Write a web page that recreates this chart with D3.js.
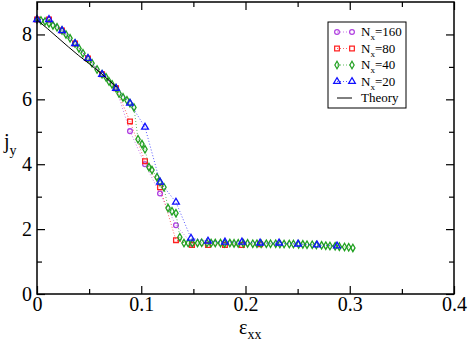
<!DOCTYPE html>
<html>
<head>
<meta charset="utf-8">
<script src="https://cdn.jsdelivr.net/npm/d3@7"></script>
<style>
  body { margin: 0; background: #fff; }
</style>
</head>
<body>
<div id="chart"></div>
<script>
// data (strain, current)
var theory = [[0, 8.45], [0.01, 8.18], [0.02, 7.9], [0.03, 7.62], [0.04, 7.35], [0.05, 7.1], [0.06, 6.84], [0.07, 6.56], [0.077, 6.36]];

var n160 = [[0, 8.46], [0.0115, 8.46], [0.024, 8.12], [0.0365, 7.72], [0.0489, 7.26], [0.0624, 6.77],
    [0.0758, 6.34], [0.0892, 5.02], [0.1036, 4.0], [0.118, 3.1], [0.1333, 2.12], [0.1487, 1.55]];

var n80 = [[0, 8.46], [0.0115, 8.46], [0.024, 8.12], [0.0365, 7.72], [0.0489, 7.26], [0.0624, 6.77],
    [0.0758, 6.34], [0.0892, 5.32], [0.1036, 4.09], [0.118, 3.29], [0.1333, 1.66], [0.1487, 1.51],
    [0.164, 1.51], [0.1803, 1.51], [0.1966, 1.51], [0.214, 1.53]];

var n40 = [[0, 8.46], [0.0038, 8.43], [0.0077, 8.4], [0.0115, 8.34], [0.0153, 8.28], [0.0192, 8.22],
    [0.024, 8.12], [0.0278, 8.0], [0.0317, 7.88], [0.0365, 7.72], [0.0403, 7.57], [0.0441, 7.42],
    [0.0489, 7.26], [0.0528, 7.11], [0.0576, 6.92], [0.0624, 6.77], [0.0662, 6.68], [0.0691, 6.55],
    [0.072, 6.46], [0.0758, 6.34], [0.0787, 6.18], [0.0825, 6.06], [0.0863, 5.97], [0.0892, 5.88],
    [0.093, 5.75], [0.0969, 4.77], [0.1007, 4.62], [0.1036, 4.46], [0.1074, 3.91], [0.1103, 3.82],
    [0.1151, 3.6], [0.118, 3.45], [0.1218, 3.29], [0.1257, 2.65], [0.1295, 2.55], [0.1333, 2.49],
    [0.137, 1.75], [0.141, 1.57], [0.145, 1.57], [0.149, 1.57], [0.154, 1.57], [0.158, 1.58],
    [0.163, 1.57], [0.167, 1.57], [0.171, 1.57], [0.176, 1.57], [0.18, 1.56], [0.185, 1.57],
    [0.189, 1.56], [0.193, 1.56], [0.198, 1.56], [0.202, 1.56], [0.207, 1.55], [0.211, 1.55],
    [0.215, 1.55], [0.22, 1.55], [0.224, 1.55], [0.229, 1.55], [0.233, 1.54], [0.237, 1.54],
    [0.242, 1.54], [0.246, 1.54], [0.251, 1.53], [0.255, 1.53], [0.259, 1.52], [0.264, 1.52],
    [0.268, 1.51], [0.273, 1.5], [0.277, 1.49], [0.281, 1.48], [0.286, 1.47], [0.29, 1.46],
    [0.295, 1.45], [0.299, 1.44], [0.303, 1.42]];

var n20 = [[0, 8.46], [0.0115, 8.46], [0.024, 8.12], [0.0365, 7.72], [0.0489, 7.26], [0.0624, 6.77],
    [0.0758, 6.34], [0.0892, 5.88], [0.1036, 5.14], [0.118, 3.45], [0.1333, 2.83], [0.1477, 1.72],
    [0.164, 1.63], [0.1803, 1.6], [0.1966, 1.6], [0.214, 1.57], [0.2322, 1.57], [0.2504, 1.54],
    [0.2686, 1.51], [0.2878, 1.48]];

var xTicks = [0, 0.1, 0.2, 0.3, 0.4];
var xTickLabels = ["0", "0.1", "0.2", "0.3", "0.4"];
var xMinor = [0.05, 0.15, 0.25, 0.35];
var yTicks = [0, 2, 4, 6, 8];
var yMinor = [1, 3, 5, 7];

var legendLabels = ["160", "80", "40", "20"];

var FONT = "Liberation Serif";

var W = 469, H = 341;
var margin = { top: 2, right: 15, bottom: 47, left: 37 },
    width = W - margin.left - margin.right,
    height = H - margin.top - margin.bottom;

var root = d3.select("#chart")
    .append("svg")
    .attr("width", W)
    .attr("height", H)
    .attr("font-family", FONT);
var svg = root.append("g")
    .attr("transform", "translate(" + margin.left + "," + margin.top + ")");

var x = d3.scaleLinear().domain([0, 0.4]).range([0, width]);
var y = d3.scaleLinear().domain([0, 9]).range([height, 0]);

// series styles
var sets = [
    { data: n160, color: "#b040e0", sym: d3.symbolCircle, size: 18 },
    { data: n80, color: "#ff2020", sym: d3.symbolSquare, size: 22 },
    { data: n40, color: "#20a020", sym: d3.symbolDiamond, size: 16 },
    { data: n20, color: "#1010ff", sym: d3.symbolTriangle, size: 20 }
];

var line = d3.line().x(function (d) { return x(d[0]); }).y(function (d) { return y(d[1]); });

sets.forEach(function (s) {
    svg.append("path")
        .datum(s.data)
        .attr("d", line)
        .attr("fill", "none")
        .attr("stroke", s.color)
        .attr("stroke-opacity", 0.7)
        .attr("stroke-width", 1)
        .attr("stroke-dasharray", "1,2");

    svg.append("g")
        .selectAll("path")
        .data(s.data)
        .enter()
        .append("path")
        .attr("d", d3.symbol().type(s.sym).size(s.size))
        .attr("transform", function (d) { return "translate(" + x(d[0]) + "," + y(d[1]) + ")"; })
        .attr("fill", "none")
        .attr("stroke", s.color)
        .attr("stroke-width", 1.3);
});

// theory curve
svg.append("path")
    .datum(theory)
    .attr("d", line)
    .attr("fill", "none")
    .attr("stroke", "#000")
    .attr("stroke-width", 1);

// axes, ticks pointing inward
function styleAxis(g) {
    g.attr("font-family", FONT).attr("font-size", 20);
    g.select(".domain").remove();
    g.selectAll(".tick line").attr("stroke", "#000").attr("stroke-width", 1.2);
    g.selectAll("text").attr("fill", "#000");
}

svg.append("g")
    .attr("transform", "translate(0," + height + ")")
    .call(d3.axisBottom(x).tickValues(xTicks).tickFormat(function (d, i) { return xTickLabels[i]; })
        .tickSizeInner(-8).tickSizeOuter(0).tickPadding(3))
    .call(styleAxis);
svg.append("g")
    .attr("transform", "translate(0," + height + ")")
    .call(d3.axisBottom(x).tickValues(xMinor).tickFormat("").tickSizeInner(-5).tickSizeOuter(0))
    .call(styleAxis);
svg.append("g")
    .call(d3.axisTop(x).tickValues(xTicks).tickFormat("").tickSizeInner(-8).tickSizeOuter(0))
    .call(styleAxis);
svg.append("g")
    .call(d3.axisTop(x).tickValues(xMinor).tickFormat("").tickSizeInner(-5).tickSizeOuter(0))
    .call(styleAxis);

svg.append("g")
    .call(d3.axisLeft(y).tickValues(yTicks).tickFormat(d3.format("d")).tickSizeInner(-8).tickSizeOuter(0).tickPadding(5))
    .call(styleAxis);
svg.append("g")
    .call(d3.axisLeft(y).tickValues(yMinor).tickFormat("").tickSizeInner(-5).tickSizeOuter(0))
    .call(styleAxis);
svg.append("g")
    .attr("transform", "translate(" + width + ",0)")
    .call(d3.axisRight(y).tickValues(yTicks).tickFormat("").tickSizeInner(-8).tickSizeOuter(0))
    .call(styleAxis);
svg.append("g")
    .attr("transform", "translate(" + width + ",0)")
    .call(d3.axisRight(y).tickValues(yMinor).tickFormat("").tickSizeInner(-5).tickSizeOuter(0))
    .call(styleAxis);

// frame
svg.append("rect")
    .attr("width", width)
    .attr("height", height)
    .attr("fill", "none")
    .attr("stroke", "#000")
    .attr("stroke-width", 1.5);

// axis titles
var yl = svg.append("text")
    .attr("x", -33)
    .attr("y", 146)
    .attr("font-size", 20);
yl.append("tspan").text("j");
yl.append("tspan").attr("dy", 7).attr("font-size", 14).text("y");

var xl = svg.append("text")
    .attr("x", 202)
    .attr("y", 332)
    .attr("font-size", 20);
xl.append("tspan").text("ε");
xl.append("tspan").attr("dy", 5).attr("font-size", 14).text("xx");

// legend
var lg = svg.append("g").attr("transform", "translate(" + (328 - margin.left) + "," + (22 - margin.top) + ")");
lg.append("rect")
    .attr("width", 78)
    .attr("height", 86)
    .attr("fill", "#fff")
    .attr("stroke", "#000")
    .attr("stroke-width", 1);

sets.forEach(function (s, i) {
    var row = lg.append("g").attr("transform", "translate(0," + (10 + i * 16.5) + ")");
    row.append("line")
        .attr("x1", 9).attr("x2", 24)
        .attr("stroke", s.color)
        .attr("stroke-opacity", 0.7)
        .attr("stroke-dasharray", "1,2");
    [9, 24].forEach(function (px) {
        row.append("path")
            .attr("d", d3.symbol().type(s.sym).size(s.size))
            .attr("transform", "translate(" + px + ",0)")
            .attr("fill", "none")
            .attr("stroke", s.color)
            .attr("stroke-width", 1.2);
    });
    var t = row.append("text").attr("x", 33).attr("y", 4).attr("font-size", 13);
    t.append("tspan").text("N");
    t.append("tspan").attr("dy", 4).attr("font-size", 9).text("x");
    t.append("tspan").attr("dy", -4).text("=" + legendLabels[i]);
});

var th = lg.append("g").attr("transform", "translate(0," + (10 + 4 * 16.5) + ")");
th.append("line").attr("x1", 9).attr("x2", 24).attr("stroke", "#000");
th.append("text").attr("x", 33).attr("y", 4).attr("font-size", 13).text("Theory");
</script>
</body>
</html>
